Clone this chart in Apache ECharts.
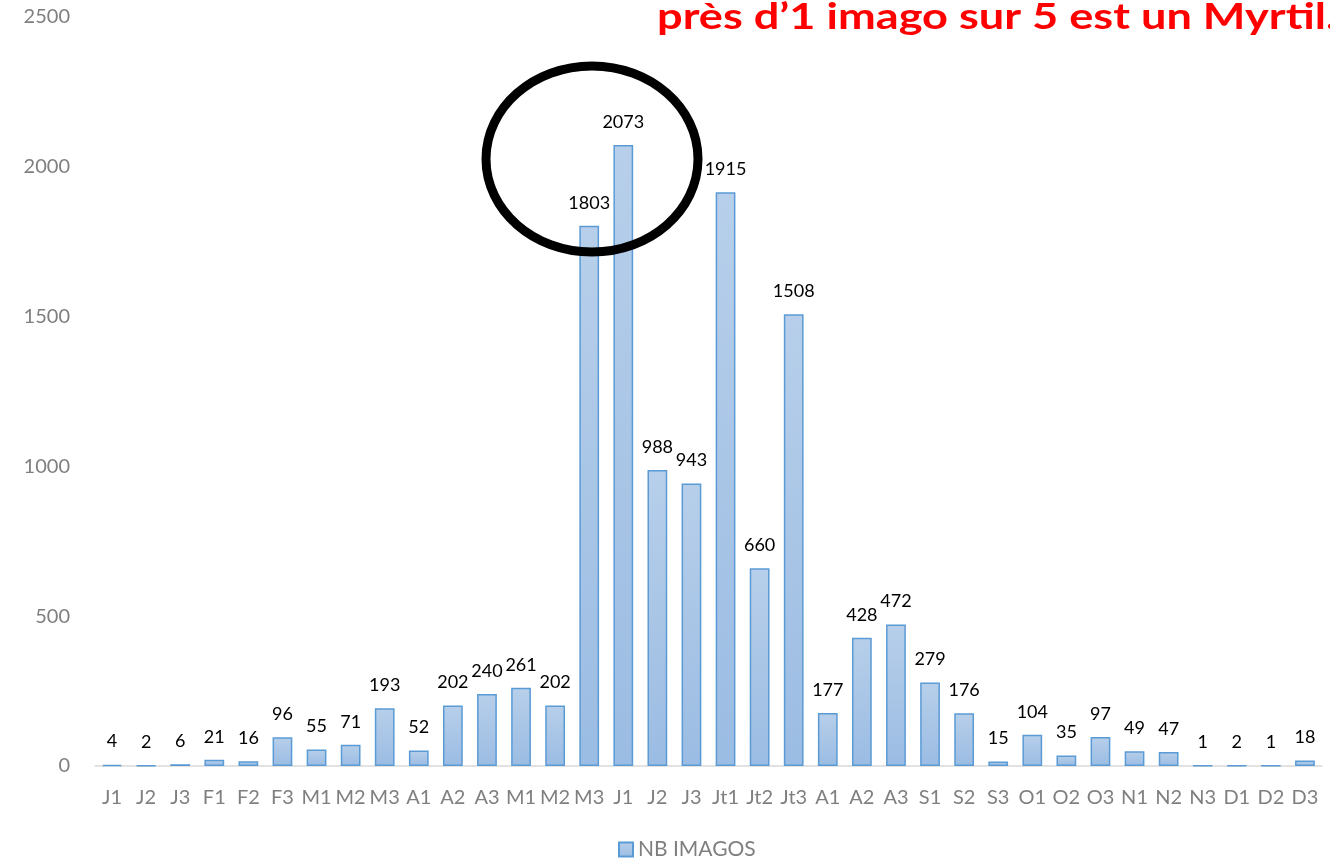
<!DOCTYPE html>
<html>
<head>
<meta charset="utf-8">
<script src="https://cdn.jsdelivr.net/npm/echarts@6/dist/echarts.min.js"></script>
<style>
  html, body { margin: 0; padding: 0; background: #fff; }
  #chart { width: 1330px; height: 858px; }
</style>
</head>
<body>
<div id="chart"></div>
<script>
// decades (J1 = janvier, 1re décade ...)
const periods = [
  "J1", "J2", "J3", "F1", "F2", "F3", "M1", "M2", "M3", "A1", "A2", "A3",
  "M1", "M2", "M3", "J1", "J2", "J3", "Jt1", "Jt2", "Jt3", "A1", "A2", "A3",
  "S1", "S2", "S3", "O1", "O2", "O3", "N1", "N2", "N3", "D1", "D2", "D3"
];
const nbImagos = [
  4, 2, 6, 21, 16, 96, 55, 71, 193, 52, 202, 240,
  261, 202, 1803, 2073, 988, 943, 1915, 660, 1508, 177, 428, 472,
  279, 176, 15, 104, 35, 97, 49, 47, 1, 2, 1, 18
];
const seriesName = "NB IMAGOS";
const headline = "près d\u20191 imago sur 5 est un Myrtil.";

const font = "Lato, 'Noto Sans', sans-serif";
const grey = "#7f7f7f";

const chart = echarts.init(document.getElementById("chart"));
chart.setOption({
  animation: false,
  textStyle: { fontFamily: font },
  grid: { left: 95, right: 8, top: 17, bottom: 92 },
  legend: {
    top: 834,
    left: 613,
    icon: "rect",
    itemWidth: 14,
    itemHeight: 14,
    itemGap: 6,
    textStyle: { color: grey, fontSize: 21, fontFamily: font },
    data: [seriesName]
  },
  xAxis: {
    type: "category",
    data: periods,
    axisLine: { lineStyle: { color: "#d9d9d9", width: 1.5 } },
    axisTick: { show: false },
    axisLabel: { color: grey, fontSize: 20, margin: 22, interval: 0 }
  },
  yAxis: {
    type: "value",
    min: 0,
    max: 2500,
    interval: 500,
    splitLine: { show: false },
    axisLine: { show: false },
    axisTick: { show: false },
    axisLabel: { color: grey, fontSize: 20, margin: 25, formatter: (v) => String(v) }
  },
  series: [{
    name: seriesName,
    type: "bar",
    data: nbImagos,
    barCategoryGap: "42%",
    itemStyle: {
      color: new echarts.graphic.LinearGradient(0, 0, 0, 1, [
        { offset: 0, color: "#b7cfea" },
        { offset: 1, color: "#9bbce3" }
      ]),
      borderColor: "#5b9bd5",
      borderWidth: 1.5
    },
    label: {
      show: true,
      position: "top",
      distance: 14,
      color: "#000",
      fontSize: 18
    }
  }],
  graphic: [
    {
      type: "text",
      x: 657,
      y: -1,
      scaleX: 1.22,
      style: {
        text: headline,
        fill: "#ff0000",
        font: "bold 37px " + font
      }
    },
    {
      type: "ellipse",
      shape: { cx: 592, cy: 159, rx: 106, ry: 93 },
      style: { fill: "none", stroke: "#000", lineWidth: 9 },
      z: 100
    }
  ]
});
</script>
</body>
</html>
